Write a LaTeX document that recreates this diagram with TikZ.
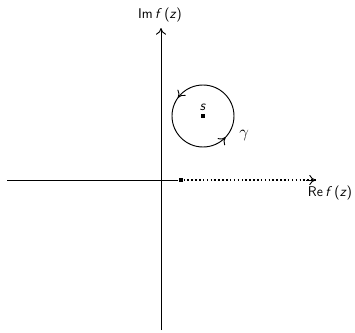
\documentclass[tikz,border=0pt]{standalone}
\usetikzlibrary{arrows.meta,positioning,decorations.markings}
\tikzset{
  axis/.style={thick, ->},
  ptsq/.style={rectangle, fill=black, inner sep=0pt, minimum size=1.4mm},
  cutline/.style={line width=1.3pt, dotted},
  contour/.style={thick, postaction={decorate}, decoration={markings,
      mark=at position 0.40 with {\arrow{>}},
      mark=at position 0.88 with {\arrow{>}}}},
  lbl/.style={font=\sffamily\large, inner sep=1pt},
}

\begin{document}
\begin{tikzpicture}[x=0.03cm, y=-0.03cm, >={To[length=2mm,width=3mm]}]
\useasboundingbox (0,0) rectangle (355,333);
\coordinate (o) at (161,180);
\coordinate (xl) at (7,180);
\coordinate (xr) at (316,180);
\coordinate (yb) at (161,330);
\coordinate (yt) at (161,28);
\node[ptsq] (br) at (181,180) {};
\node[ptsq] (s) at (203,116) {};
\node[lbl, above=0.3mm of s] (sl) {\textit{s}};
\node[lbl, font=\Large] (gam) at (244,136) {$\gamma$};
\node[lbl] (im) at (160,15) {Im\,\textit{f}\,(\textit{z})};
\node[lbl] (re) at (330,193) {Re\,\textit{f}\,(\textit{z})};

\draw[thick] (xl) -- (br);
\draw[cutline] (br) -- (xr);
\draw[axis] (xr) ++(-10,0) -- (xr);
\draw[axis] (yb) -- (yt);
\draw[contour] (s) ++(31,0) arc[start angle=0, end angle=-360, radius=31];
\end{tikzpicture}
\end{document}
